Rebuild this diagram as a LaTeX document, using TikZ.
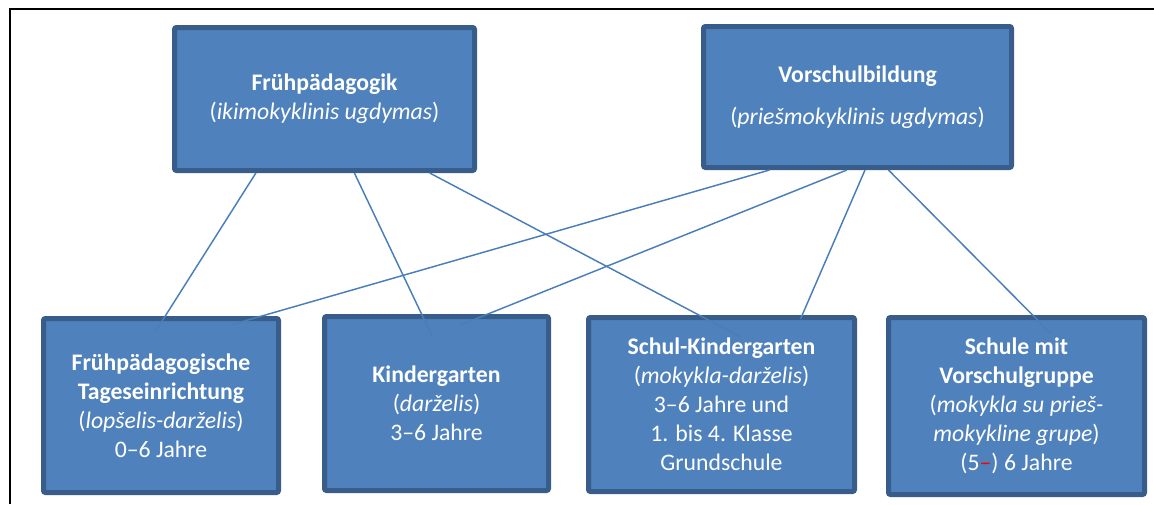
\documentclass[tikz,border=0pt]{standalone}
\usepackage{fontspec}
\setmainfont{Carlito}
\usetikzlibrary{calc}
\definecolor{boxfill}{HTML}{4F81BD}
\definecolor{boxline}{HTML}{385D8A}
\definecolor{linkcol}{HTML}{4A7EBB}

\begin{document}
\begin{tikzpicture}[x=0.75pt,y=-0.75pt,font=\fontsize{17.8}{21.75}\selectfont]
% Box and connector styles
\tikzstyle{area box}=[draw=boxline,fill=boxfill,line width=3.75pt,rounded corners=1.5pt,text=white,align=center,inner sep=0];
\tikzstyle{link}=[draw=linkcol,line width=1.1pt];
\useasboundingbox (0,0) rectangle (1154,504);
% Frame
\draw[line width=2pt] (10,504) -- (10,9) -- (1154,9);
% Upper level
\node(fp)[area box,minimum width=225pt,minimum height=107.25pt] at (324.5,99)
{\textbf{Frühpädagogik}\\(\textit{ikimokyklinis ugdymas})};
\node(vb)[area box,minimum width=231pt,minimum height=105.75pt] at (857.5,97)
{\textbf{Vorschulbildung}\\[9.75pt](\textit{priešmokyklinis ugdymas})};
% Lower level
\node(b1)[area box,minimum width=176.25pt,minimum height=130.5pt] at (161,405.5)
{\textbf{Frühpädagogische}\\\textbf{Tageseinrichtung}\\(\textit{lopšelis-darželis})\\0–6 Jahre};
\node(b2)[area box,minimum width=168pt,minimum height=130.5pt] at (436.5,403.5)
{\textbf{Kindergarten}\\(\textit{darželis})\\3–6 Jahre};
\node(b3)[area box,minimum width=199.5pt,minimum height=130.5pt] at (721.5,404.5)
{\textbf{Schul-Kindergarten}\\(\textit{mokykla-darželis})\\3–6 Jahre und\\1. bis 4. Klasse\\Grundschule};
\node(b4)[area box,minimum width=192pt,minimum height=132.75pt] at (1016.5,406)
{\textbf{Schule mit}\\\textbf{Vorschulgruppe}\\(\textit{mokykla su prieš-}\\\textit{mokykline grupe})\\(5\textcolor{red}{–}) 6 Jahre};
% Connectors
\draw[link]($(fp.south west)!0.275!(fp.south east)$)--($(b1.north west)+(113.5,17)$);
\draw[link]($(fp.south west)!0.598!(fp.south east)$)--($(b2.north west)+(110.5,23)$);
\draw[link]($(fp.south west)!0.845!(fp.south east)$)--($(b3.north west)+(154.5,22)$);
\draw[link]($(vb.south west)!0.219!(vb.south east)$)--($(b1.north west)+(189.5,9)$);
\draw[link]($(vb.south west)!0.466!(vb.south east)$)--($(b2.north west)+(138.5,11)$);
\draw[link]($(vb.south west)!0.524!(vb.south east)$)--($(b3.north west)+(214.5,4)$);
\draw[link]($(vb.south west)!0.599!(vb.south east)$)--($(b4.north west)+(164.5,18)$);
\end{tikzpicture}
\end{document}
